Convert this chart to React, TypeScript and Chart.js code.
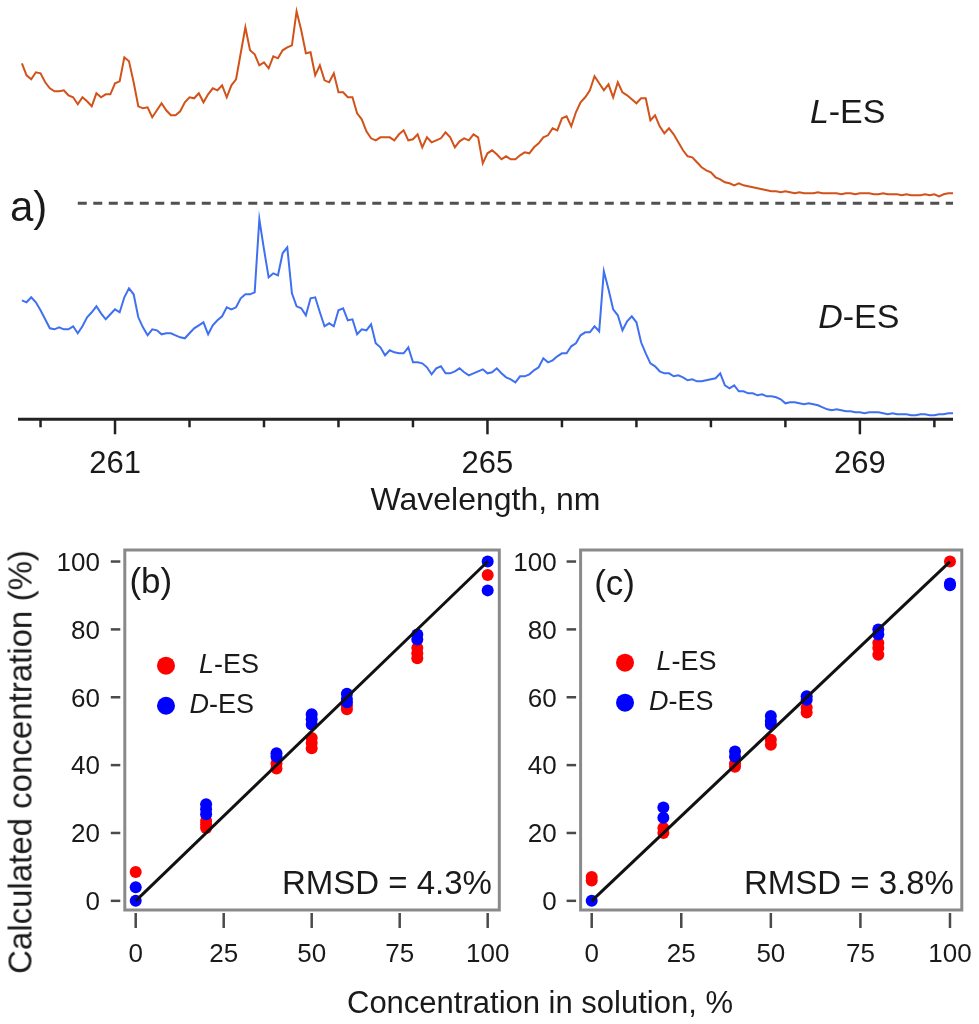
import React, { useEffect, useRef } from 'react';
import { Chart, registerables } from 'chart.js';

Chart.register(...registerables);

const FONT = '"Liberation Sans", Arial, Helvetica, sans-serif';
const INK = '#1a1a1a';

// ---------- (a) spectra ----------
const WL_START = 260.0; // nm
const WL_STEP = 0.05; // nm
const L_ES_INTENSITY = [
  140, 128, 124, 131, 130, 121, 115, 112, 112, 113,
  108, 106, 99, 106, 102, 97, 110, 106, 109, 109,
  120, 122, 146, 142, 121, 97, 95, 96, 86, 93,
  100, 93, 88, 88, 92, 101, 106, 105, 110, 101,
  109, 115, 113, 118, 106, 118, 124, 150, 176, 153,
  149, 138, 141, 135, 147, 145, 153, 156, 158, 192,
  173, 150, 151, 128, 138, 123, 121, 130, 111, 111,
  106, 106, 90, 84, 72, 65, 63, 66, 66, 66,
  63, 69, 73, 63, 64, 69, 56, 66, 61, 63,
  65, 71, 66, 56, 62, 65, 63, 69, 66, 40,
  50, 53, 49, 44, 47, 44, 44, 48, 51, 50,
  56, 60, 66, 68, 75, 73, 85, 87, 77, 91,
  101, 106, 113, 127, 120, 113, 119, 106, 121, 111,
  108, 104, 100, 105, 105, 83, 88, 77, 70, 75,
  69, 61, 53, 47, 46, 41, 36, 33, 31, 26,
  24, 21, 20, 18, 20, 18, 17, 16, 15, 14,
  13, 12, 12, 11, 12, 11, 10, 11, 10, 10,
  10, 11, 10, 10, 10, 10, 9, 10, 10, 9,
  10, 10, 10, 9, 9, 10, 9, 9, 9, 8,
  9, 8, 8, 8, 9, 8, 9, 7, 9, 10, 10,
];
const D_ES_INTENSITY = [
  119, 117, 122, 117, 109, 100, 91, 90, 92, 90,
  90, 93, 86, 93, 102, 107, 113, 106, 100, 105,
  110, 107, 122, 131, 125, 102, 92, 84, 90, 89,
  85, 86, 86, 84, 82, 81, 86, 91, 94, 97,
  85, 94, 99, 103, 112, 110, 112, 121, 125, 125,
  127, 200, 170, 142, 146, 144, 166, 172, 126, 113,
  111, 104, 121, 122, 107, 93, 96, 93, 109, 111,
  99, 100, 85, 90, 89, 95, 76, 72, 64, 69,
  67, 66, 66, 72, 57, 57, 56, 52, 45, 51,
  53, 46, 46, 48, 51, 47, 44, 46, 48, 50,
  46, 47, 51, 46, 42, 40, 37, 43, 43, 45,
  49, 52, 61, 57, 59, 63, 66, 66, 73, 76,
  84, 87, 87, 93, 88, 148, 130, 110, 104, 89,
  98, 103, 97, 77, 66, 56, 53, 48, 46, 46,
  43, 44, 42, 39, 40, 38, 38, 39, 40, 41,
  46, 34, 31, 34, 28, 28, 26, 26, 24, 25,
  23, 23, 22, 20, 16, 17, 17, 16, 15, 16,
  15, 14, 12, 10, 9, 10, 9, 8, 8, 7,
  7, 6, 7, 7, 7, 6, 5, 6, 5, 5,
  5, 4, 4, 5, 5, 4, 4, 5, 5, 6, 6,
];
const L_ES_OFFSET = 216; // vertical offset of the L-ES trace (its dashed baseline)
const BASELINE_WL = [260.6, 270.0];
const WL_TICKS = [260.2, 261.0, 261.8, 262.6, 263.4, 264.2, 265.0, 265.8, 266.6, 267.4, 268.2, 269.0, 269.8];
const WL_LABELED = [261, 265, 269];

// ---------- (b), (c) calibration ----------
const CONC_TICKS = [0, 25, 50, 75, 100];
const CALC_TICKS = [0, 20, 40, 60, 80, 100];
const IDEAL = [0, 100];

const B_L_CONC = [0, 20, 20, 20, 40, 40, 50, 50, 50, 60, 60, 80, 80, 80, 100];
const B_L_CALC = [8.5, 23.5, 22.5, 21.5, 40.5, 39, 48, 46.5, 45, 57.5, 56.5, 74.5, 73, 71.5, 96];
const B_D_CONC = [0, 0, 20, 20, 20, 40, 40, 50, 50, 50, 60, 60, 60, 80, 80, 100, 100];
const B_D_CALC = [4, 0, 28.5, 27, 25.5, 43.5, 42.5, 55, 53.5, 52, 61, 59.5, 58.5, 78.5, 77, 100, 91.5];
const B_RMSD = 'RMSD = 4.3%';

const C_L_CONC = [0, 0, 20, 20, 40, 40, 50, 50, 60, 60, 80, 80, 80, 100];
const C_L_CALC = [7, 6, 21.5, 20, 40.5, 39.5, 47.5, 46, 57, 55.5, 76, 74.5, 72.5, 100];
const C_D_CONC = [0, 20, 20, 40, 40, 50, 50, 50, 60, 60, 80, 80, 100, 100];
const C_D_CALC = [0, 27.5, 24.5, 44, 42.5, 54.5, 53, 52, 60.3, 59.3, 80, 78.5, 93.5, 93];
const C_RMSD = 'RMSD = 3.8%';

type Part = { text: string; italic?: boolean };
type Note =
  | { kind: 'text'; x: number; y: number; parts: Part[]; size: number; align?: 'left' | 'right' }
  | { kind: 'dot'; x: number; y: number; r: number; color: string };

function drawNotes(chart: any, notes: Note[]) {
  const ctx = chart.ctx as CanvasRenderingContext2D;
  const xs = chart.scales.x;
  const ys = chart.scales.y;
  ctx.save();
  for (const n of notes) {
    const px = xs.getPixelForValue(n.x);
    const py = ys.getPixelForValue(n.y);
    if (n.kind === 'dot') {
      ctx.fillStyle = n.color;
      ctx.beginPath();
      ctx.arc(px, py, n.r, 0, Math.PI * 2);
      ctx.fill();
      continue;
    }
    ctx.textBaseline = 'middle';
    ctx.textAlign = 'left';
    ctx.fillStyle = INK;
    const fonts = n.parts.map((p) => `${p.italic ? 'italic ' : ''}${n.size}px ${FONT}`);
    const widths = n.parts.map((p, i) => {
      ctx.font = fonts[i];
      return ctx.measureText(p.text).width;
    });
    const total = widths.reduce((a, b) => a + b, 0);
    let cx = n.align === 'right' ? px - total : px;
    n.parts.forEach((p, i) => {
      ctx.font = fonts[i];
      ctx.fillText(p.text, cx, py);
      cx += widths[i];
    });
  }
  ctx.restore();
}

const isLabeled = (v: number) => WL_LABELED.some((m) => Math.abs(m - v) < 1e-6);

function spectraConfig(): any {
  const wl = (i: number) => WL_START + i * WL_STEP;
  const notes: Note[] = [
    { kind: 'text', x: 259.872, y: 209.9, parts: [{ text: 'a)' }], size: 42 },
    { kind: 'text', x: 268.463, y: 306, parts: [{ text: 'L', italic: true }, { text: '-ES' }], size: 34 },
    { kind: 'text', x: 268.552, y: 100.5, parts: [{ text: 'D', italic: true }, { text: '-ES' }], size: 34 },
  ];
  return {
    type: 'line',
    data: {
      datasets: [
        {
          label: 'L-ES',
          data: L_ES_INTENSITY.map((v, i) => ({ x: wl(i), y: v + L_ES_OFFSET })),
          borderColor: '#d2521a',
          borderWidth: 2,
          pointRadius: 0,
          tension: 0,
        },
        {
          label: 'D-ES',
          data: D_ES_INTENSITY.map((v, i) => ({ x: wl(i), y: v })),
          borderColor: '#3f70f2',
          borderWidth: 2,
          pointRadius: 0,
          tension: 0,
        },
        {
          label: 'offset',
          data: BASELINE_WL.map((x) => ({ x, y: L_ES_OFFSET })),
          borderColor: '#505050',
          borderWidth: 3,
          borderDash: [9, 6.5],
          pointRadius: 0,
        },
      ],
    },
    options: {
      animation: false,
      responsive: false,
      events: [],
      layout: { padding: { left: 18, right: 26, top: 0, bottom: 0 } },
      plugins: { legend: { display: false }, tooltip: { enabled: false } },
      scales: {
        x: {
          type: 'linear',
          min: 259.958,
          max: 270.0,
          afterBuildTicks: (s: any) => {
            s.ticks = WL_TICKS.map((v) => ({ value: v }));
          },
          afterFit: (s: any) => {
            s.height = 100.7;
          },
          grid: { display: false, drawTicks: false },
          border: { display: false },
          ticks: { display: false },
          title: {
            display: true,
            text: 'Wavelength, nm',
            color: INK,
            font: { family: FONT, size: 32 },
            padding: { top: 0, bottom: 0 },
          },
        },
        y: { display: false, min: 0, max: 419.3 },
      },
    },
    plugins: [
      {
        id: 'spectraDecor',
        afterDraw(chart: any) {
          const { ctx, chartArea } = chart;
          const xs = chart.scales.x;
          ctx.save();
          ctx.strokeStyle = '#222';
          ctx.lineWidth = 3;
          ctx.beginPath();
          ctx.moveTo(chartArea.left, chartArea.bottom);
          ctx.lineTo(chartArea.right, chartArea.bottom);
          ctx.stroke();
          ctx.lineWidth = 2.5;
          ctx.fillStyle = INK;
          ctx.font = `31px ${FONT}`;
          ctx.textAlign = 'center';
          ctx.textBaseline = 'alphabetic';
          xs.ticks.forEach((t: any) => {
            const px = xs.getPixelForValue(t.value);
            const major = isLabeled(t.value);
            ctx.beginPath();
            ctx.moveTo(px, chartArea.bottom);
            ctx.lineTo(px, chartArea.bottom + (major ? 15 : 8));
            ctx.stroke();
            if (major) ctx.fillText(String(Math.round(t.value)), px, chartArea.bottom + 53.5);
          });
          ctx.restore();
          drawNotes(chart, notes);
        },
      },
    ],
  };
}

function calibConfig(o: {
  lConc: number[];
  lCalc: number[];
  dConc: number[];
  dCalc: number[];
  yAxisWidth: number;
  yPad: number;
  padRight: number;
  notes: Note[];
}): any {
  return {
    type: 'scatter',
    data: {
      datasets: [
        {
          label: 'ideal',
          data: IDEAL.map((v) => ({ x: v, y: v })),
          showLine: true,
          borderColor: '#111',
          borderWidth: 3,
          pointRadius: 0,
          order: 0,
        },
        {
          label: 'D-ES',
          data: o.dConc.map((c, i) => ({ x: c, y: o.dCalc[i] })),
          pointBackgroundColor: '#0000ff',
          pointBorderWidth: 0,
          pointRadius: 6,
          order: 1,
        },
        {
          label: 'L-ES',
          data: o.lConc.map((c, i) => ({ x: c, y: o.lCalc[i] })),
          pointBackgroundColor: '#ff0000',
          pointBorderWidth: 0,
          pointRadius: 6,
          order: 2,
        },
      ],
    },
    options: {
      animation: false,
      responsive: false,
      events: [],
      layout: { padding: { left: 0, right: o.padRight, top: 30, bottom: 0 } },
      plugins: { legend: { display: false }, tooltip: { enabled: false } },
      scales: {
        x: {
          type: 'linear',
          min: -3.1,
          max: 103.3,
          afterBuildTicks: (s: any) => {
            s.ticks = CONC_TICKS.map((v) => ({ value: v }));
          },
          afterFit: (s: any) => {
            s.height = 114;
          },
          grid: { display: false, drawTicks: false },
          border: { display: false },
          ticks: { display: false },
        },
        y: {
          type: 'linear',
          min: -2.7,
          max: 103.4,
          afterBuildTicks: (s: any) => {
            s.ticks = CALC_TICKS.map((v) => ({ value: v }));
          },
          afterFit: (s: any) => {
            s.width = o.yAxisWidth;
          },
          grid: { display: false, drawTicks: false },
          border: { display: false },
          ticks: { display: false },
        },
      },
    },
    plugins: [
      {
        id: 'calibFrame',
        beforeDatasetsDraw(chart: any) {
          const { ctx, chartArea: a } = chart;
          ctx.save();
          ctx.strokeStyle = '#8a8a8a';
          ctx.lineWidth = 3;
          ctx.strokeRect(a.left, a.top, a.right - a.left, a.bottom - a.top);
          ctx.restore();
        },
        afterDraw(chart: any) {
          const { ctx, chartArea: a } = chart;
          const xs = chart.scales.x;
          const ys = chart.scales.y;
          ctx.save();
          ctx.strokeStyle = '#4a4a4a';
          ctx.lineWidth = 2.5;
          ctx.fillStyle = INK;
          ctx.font = `26px ${FONT}`;
          ctx.textBaseline = 'alphabetic';
          ctx.textAlign = 'center';
          xs.ticks.forEach((t: any) => {
            const px = xs.getPixelForValue(t.value);
            ctx.beginPath();
            ctx.moveTo(px, a.bottom + 3);
            ctx.lineTo(px, a.bottom + 18);
            ctx.stroke();
            ctx.fillText(String(t.value), px, a.bottom + 51.7);
          });
          ctx.textAlign = 'right';
          ys.ticks.forEach((t: any) => {
            const py = ys.getPixelForValue(t.value);
            ctx.beginPath();
            ctx.moveTo(a.left - 4.5, py);
            ctx.lineTo(a.left - 14, py);
            ctx.stroke();
            ctx.fillText(String(t.value), a.left - o.yPad, py + 9.3);
          });
          ctx.restore();
          drawNotes(chart, o.notes);
        },
      },
    ],
  };
}

function legendNotes(dotX: number, lY: number, dY: number, lX: number, dX: number): Note[] {
  return [
    { kind: 'dot', x: dotX, y: lY, r: 9, color: '#ff0000' },
    { kind: 'dot', x: dotX, y: dY, r: 9, color: '#0000ff' },
    { kind: 'text', x: lX, y: lY, parts: [{ text: 'L', italic: true }, { text: '-ES' }], size: 27 },
    { kind: 'text', x: dX, y: dY, parts: [{ text: 'D', italic: true }, { text: '-ES' }], size: 27 },
  ];
}

function ChartCanvas({ config, left, top, width, height }: { config: () => any; left: number; top: number; width: number; height: number }) {
  const ref = useRef<HTMLCanvasElement | null>(null);
  useEffect(() => {
    if (!ref.current) return;
    const chart = new Chart(ref.current, config());
    return () => chart.destroy();
  }, [config]);
  return (
    <canvas
      ref={ref}
      width={width}
      height={height}
      style={{ position: 'absolute', left, top, width, height }}
    />
  );
}

const topCfg = () => spectraConfig();
const bCfg = () =>
  calibConfig({
    lConc: B_L_CONC,
    lCalc: B_L_CALC,
    dConc: B_D_CONC,
    dCalc: B_D_CALC,
    yAxisWidth: 124.8,
    yPad: 24.8,
    padRight: 40.7,
    notes: [
      { kind: 'text', x: -1.8, y: 93.7, parts: [{ text: '(b)' }], size: 35 },
      ...legendNotes(8.6, 69.3, 57.5, 18.0, 15.3),
      { kind: 'text', x: 101.2, y: 4.7, parts: [{ text: B_RMSD }], size: 33 },
    ].map((n: any) => (n.parts && n.parts[0].text.startsWith('RMSD') ? { ...n, align: 'right' } : n)),
  });
const cCfg = () =>
  calibConfig({
    lConc: C_L_CONC,
    lCalc: C_L_CALC,
    dConc: C_D_CONC,
    dCalc: C_D_CALC,
    yAxisWidth: 80.6,
    yPad: 24,
    padRight: 17.2,
    notes: [
      { kind: 'text', x: 0.7, y: 93.1, parts: [{ text: '(c)' }], size: 35 },
      ...legendNotes(9.3, 70.2, 58.4, 18.1, 16.0),
      { kind: 'text', x: 101.1, y: 4.7, parts: [{ text: C_RMSD }], size: 33, align: 'right' },
    ],
  });

export default function App() {
  return (
    <div style={{ position: 'absolute', left: 0, top: 0, width: 979, height: 1024, background: '#fff', overflow: 'hidden' }}>
      <ChartCanvas config={topCfg} left={0} top={0} width={979} height={520} />
      <ChartCanvas config={bCfg} left={0} top={520} width={540} height={504} />
      <ChartCanvas config={cCfg} left={500} top={520} width={479} height={504} />
      <div
        style={{
          position: 'absolute',
          left: 20.2,
          top: 761.5,
          transform: 'translate(-50%, -50%) rotate(-90deg)',
          whiteSpace: 'nowrap',
          font: `33px ${FONT}`,
          lineHeight: '1',
          color: INK,
        }}
      >
        Calculated concentration (%)
      </div>
      <div
        style={{
          position: 'absolute',
          left: 540,
          top: 987,
          transform: 'translateX(-50%)',
          whiteSpace: 'nowrap',
          font: `31px ${FONT}`,
          lineHeight: '1',
          color: INK,
        }}
      >
        Concentration in solution, %
      </div>
    </div>
  );
}
